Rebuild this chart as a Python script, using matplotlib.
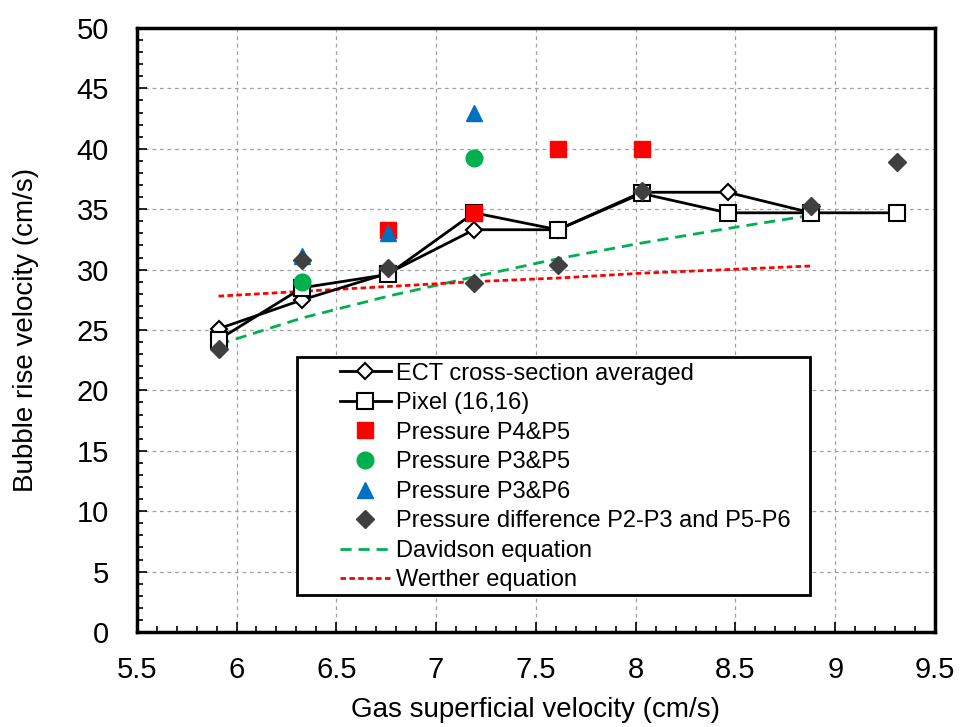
import matplotlib
matplotlib.use("Agg")
import matplotlib.pyplot as plt
from matplotlib.patches import Rectangle
from matplotlib.ticker import MultipleLocator, FuncFormatter

plt.rcParams["font.family"] = ["Liberation Sans", "DejaVu Sans"]

# gas superficial velocity (cm/s)
ug = [5.91, 6.33, 6.76, 7.19, 7.61, 8.03, 8.46, 8.88, 9.31]

ect_avg = [25.1, 27.5, 29.7, 33.3, 33.3, 36.4, 36.4, 34.7]
pixel = [24.2, 28.5, 29.6, 34.7, 33.3, 36.3, 34.7, 34.7, 34.7]

p45_x = [6.76, 7.19, 7.61, 8.03]
p45_y = [33.3, 34.7, 40.0, 40.0]

p35_x = [6.33, 7.19]
p35_y = [29.0, 39.2]

p36_x = [6.33, 6.76, 7.19]
p36_y = [31.1, 33.0, 43.0]

pdiff_x = [5.91, 6.33, 6.76, 7.19, 7.61, 8.03, 8.88, 9.31]
pdiff_y = [23.4, 30.8, 30.1, 28.9, 30.4, 36.5, 35.3, 38.9]

davidson = [23.8, 26.0, 27.8, 29.4, 30.9, 32.2, 33.4, 34.5]
werther = [27.8, 28.2, 28.6, 29.0, 29.3, 29.7, 30.0, 30.3]

fig = plt.figure(figsize=(9.63, 7.27), dpi=100)
ax = fig.add_axes([0.142, 0.1307, 0.829, 0.8308])

ax.plot(ug[:8], ect_avg, color="black", lw=2, marker="D", ms=8,
        mfc="white", mec="black", mew=1.5, label="ECT cross-section averaged", zorder=3)
ax.plot(ug, pixel, color="black", lw=2, marker="s", ms=11,
        mfc="white", mec="black", mew=1.5, label="Pixel (16,16)", zorder=3)
ax.plot(p45_x, p45_y, ls="none", marker="s", ms=12, color="#ff0000",
        label="Pressure P4&P5", zorder=4)
ax.plot(p35_x, p35_y, ls="none", marker="o", ms=12, color="#00b050",
        label="Pressure P3&P5", zorder=4)
ax.plot(p36_x, p36_y, ls="none", marker="^", ms=12, color="#0070c0",
        label="Pressure P3&P6", zorder=4)
ax.plot(pdiff_x, pdiff_y, ls="none", marker="D", ms=9, color="#404040",
        label="Pressure difference P2-P3 and P5-P6", zorder=5)
ax.plot(ug[:8], davidson, color="#00b050", lw=2, ls=(0, (4, 2.5)),
        label="Davidson equation", zorder=2)
ax.plot(ug[:8], werther, color="#ff0000", lw=2, ls=(0, (2, 1.2)),
        label="Werther equation", zorder=2)

ax.set_xlim(5.5, 9.5)
ax.set_ylim(0, 50)
ax.xaxis.set_major_locator(MultipleLocator(0.5))
ax.xaxis.set_minor_locator(MultipleLocator(0.1))
ax.yaxis.set_major_locator(MultipleLocator(5))
ax.yaxis.set_minor_locator(MultipleLocator(1))
ax.xaxis.set_major_formatter(FuncFormatter(lambda v, p: f"{v:g}"))

ax.tick_params(which="both", direction="in", top=False, right=False,
               labelsize=21, width=1.2, color="black")
ax.tick_params(which="major", length=7)
ax.tick_params(which="minor", length=4)
ax.tick_params(axis="y", which="major", pad=20)
ax.tick_params(axis="x", which="major", pad=17)
for s in ax.spines.values():
    s.set_linewidth(2.5)

ax.grid(True, which="major", color="#a0a0a0", ls=(0, (3, 3)), lw=0.9)

ax.set_xlabel("Gas superficial velocity (cm/s)", fontsize=20, labelpad=10)
ax.set_ylabel("Bubble rise velocity (cm/s)", fontsize=20, labelpad=27)

# legend frame drawn separately so the inner padding can match the original
ax.add_patch(Rectangle((0.2005, 0.0613), 0.6425, 0.394, transform=ax.transAxes,
                       facecolor="white", edgecolor="black", lw=2, zorder=6))
leg = ax.legend(loc="upper left", bbox_to_anchor=(0.254, 0.446), fontsize=17,
                frameon=False, borderaxespad=0, borderpad=0,
                handlelength=2.2, labelspacing=0.32, handletextpad=0.2)
leg.set_zorder(7)

fig.savefig("out.png", dpi=100)
